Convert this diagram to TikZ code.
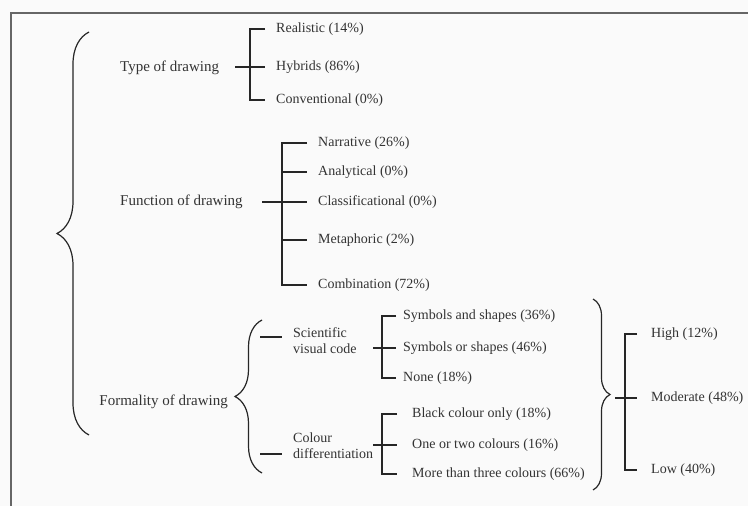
\documentclass[tikz,border=0pt]{standalone}
\usepackage{fontspec}
\setmainfont{Liberation Serif}
\usetikzlibrary{decorations.pathreplacing}

\begin{document}
\begin{tikzpicture}[x = 1pt, y = -1pt,
    main/.style = {text = black!80, font = \fontsize{15}{17}\selectfont, inner sep = 0pt},
    item/.style = {text = black!80, font = \fontsize{14}{16}\selectfont, inner sep = 0pt, anchor = west},
    sub/.style = {item, align = left},
    tree/.style = {draw = black!85, line width = 1.2pt},
    curly/.style = {tree, decorate, decoration = {brace, amplitude = #1}}]
  \fill[black!2] (0,0) rectangle (748,506);
  \useasboundingbox (0,0) rectangle (748,506);
  \draw[black!60, line width = 1.5pt] (748,13) -| (11,506);

  % outer brace
  \coordinate (all-top) at (89,32);
  \coordinate (all-bot) at (89,435);
  \draw[curly = 32] (all-bot) -- (all-top);

  % type of drawing
  \node[main, anchor = west] (type) at (120,68) {Type of drawing};
  \node[item] (real) at (276,29)  {Realistic (14\%)};
  \node[item] (hyb)  at (276,67)  {Hybrids (86\%)};
  \node[item] (conv) at (276,100) {Conventional (0\%)};
  \draw[tree] ([xshift = -11]real.west) -| ([xshift = -26]conv.west) -- ([xshift = -11]conv.west);
  \draw[tree] ([xshift = -41]hyb.west) -- ([xshift = -11]hyb.west);

  % function of drawing
  \node[main, anchor = west] (func) at (120,202) {Function of drawing};
  \node[item] (narr) at (318,143) {Narrative (26\%)};
  \node[item] (anal) at (318,172) {Analytical (0\%)};
  \node[item] (clas) at (318,202) {Classificational (0\%)};
  \node[item] (meta) at (318,240) {Metaphoric (2\%)};
  \node[item] (comb) at (318,285) {Combination (72\%)};
  \draw[tree] ([xshift = -11]narr.west) -| ([xshift = -36]comb.west) -- ([xshift = -11]comb.west);
  \foreach \n in {anal, meta}
    \draw[tree] ([xshift = -36]\n.west) -- ([xshift = -11]\n.west);
  \draw[tree] ([xshift = -56]clas.west) -- ([xshift = -11]clas.west);

  % formality of drawing
  \node[main, anchor = east] (form) at (228,402) {Formality of drawing};
  \coordinate (form-top) at (262,320);
  \coordinate (form-bot) at (262,473);
  \draw[curly = 27] (form-bot) -- (form-top);

  \node[sub] (sci) at (293,341) {Scientific\\visual code};
  \node[sub] (col) at (293,446) {Colour\\differentiation};
  \draw[tree] ([xshift = -33, yshift = 4]sci.west) -- ([xshift = -11, yshift = 4]sci.west);
  \draw[tree] ([xshift = -33, yshift = -8]col.west) -- ([xshift = -11, yshift = -8]col.west);

  \node[item] (sas)  at (403,316) {Symbols and shapes (36\%)};
  \node[item] (sos)  at (403,348) {Symbols or shapes (46\%)};
  \node[item] (none) at (403,378) {None (18\%)};
  \draw[tree] ([xshift = -7]sas.west) -| ([xshift = -21]none.west) -- ([xshift = -7]none.west);
  \draw[tree] ([xshift = -30]sos.west) -- ([xshift = -7]sos.west);

  \node[item] (blk)  at (412,414) {Black colour only (18\%)};
  \node[item] (one)  at (412,445) {One or two colours (16\%)};
  \node[item] (more) at (412,474) {More than three colours (66\%)};
  \draw[tree] ([xshift = -15]blk.west) -| ([xshift = -30]more.west) -- ([xshift = -15]more.west);
  \draw[tree] ([xshift = -39]one.west) -- ([xshift = -15]one.west);

  % overall level
  \coordinate (lvl-top) at (593,299);
  \coordinate (lvl-bot) at (593,490);
  \draw[curly = 17] (lvl-top) -- (lvl-bot);
  \node[item] (high) at (651,334) {High (12\%)};
  \node[item] (mod)  at (651,398) {Moderate (48\%)};
  \node[item] (low)  at (651,470) {Low (40\%)};
  \draw[tree] ([xshift = -14]high.west) -| ([xshift = -26]low.west) -- ([xshift = -14]low.west);
  \draw[tree] ([xshift = -36]mod.west) -- ([xshift = -14]mod.west);
\end{tikzpicture}
\end{document}
